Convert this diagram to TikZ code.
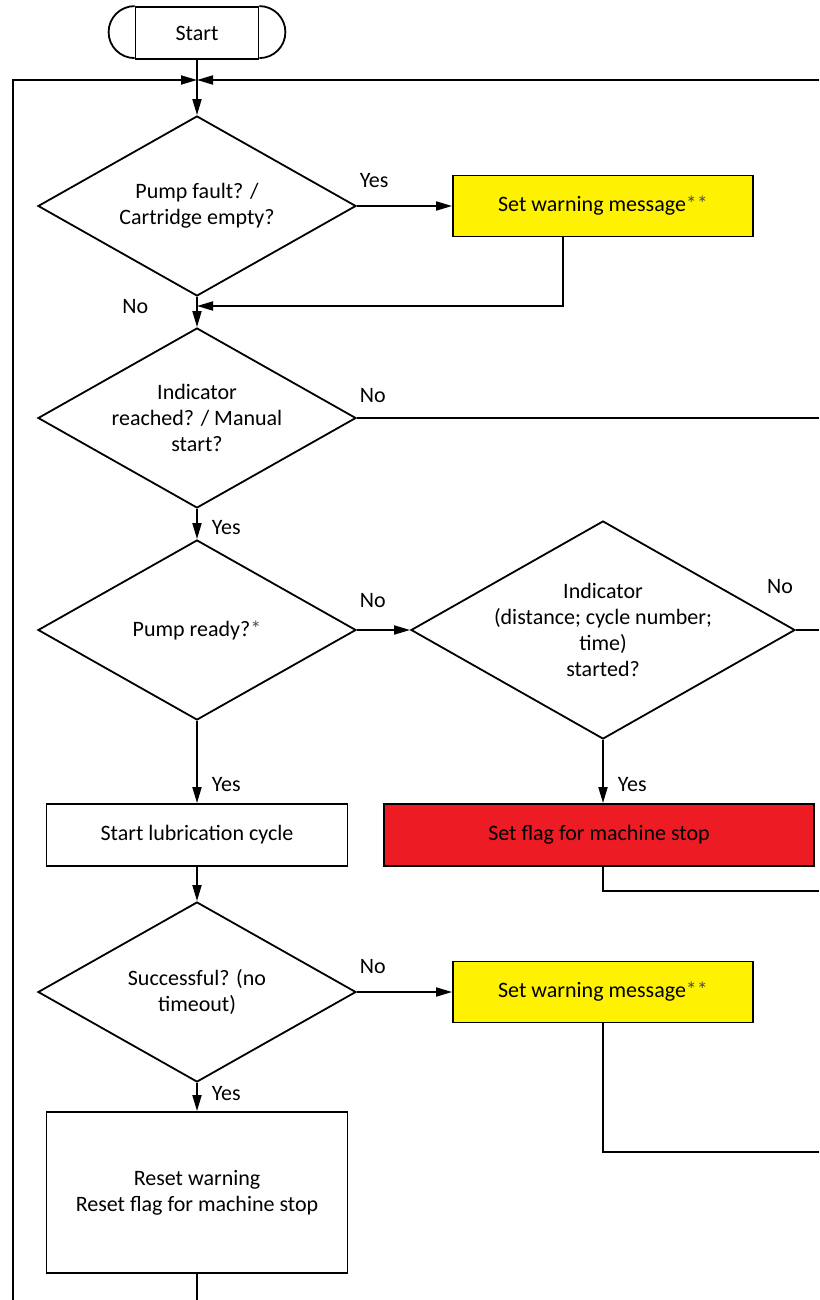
\documentclass[tikz,border=0pt]{standalone}
\usepackage{fontspec}
\setmainfont{Carlito}
\usetikzlibrary{shapes.geometric,arrows.meta}

\definecolor{warnyellow}{RGB}{255,242,0}
\definecolor{stopred}{RGB}{237,28,36}
\definecolor{stargray}{RGB}{80,80,80}
\newcommand{\stars}[1]{{\color{stargray}#1}}

\tikzstyle{term} = [rectangle, minimum width=123pt, minimum height=52pt, inner sep=0pt, draw=black]
\tikzstyle{proc} = [rectangle, minimum width=301pt, minimum height=62pt, inner sep=0pt, align=center, draw=black]
\tikzstyle{warn} = [proc, minimum width=300pt, minimum height=61pt, fill=warnyellow]
\tikzstyle{dec} = [diamond, minimum width=318pt, minimum height=180pt, shape aspect=1.77, inner sep=0pt, align=center, draw=black]
\tikzstyle{lbl} = [inner sep=2pt]
\tikzstyle{hlbl} = [lbl, pos=0, anchor=west, yshift=25pt]

\begin{document}
\begin{tikzpicture}[x=1pt,y=1pt,line width=1.8pt,node distance=212pt,
  >={Triangle[length=16pt,width=9pt]},font=\fontsize{22}{26}\selectfont]
\useasboundingbox (0,0) rectangle (819,-1300);

\node[term] (Start) at (197,-33) {Start};
\draw (Start.north west) arc (90:270:26pt);
\draw (Start.north east) arc (90:-90:26pt);

\node[dec] (Fault) [below of=Start, yshift=39pt] {Pump fault? /\\Cartridge empty?};
\node[warn] (Warn1) [node distance=406pt, right of=Fault] {Set warning message\stars{**}};

\node[dec] (Reached) [below of=Fault] {Indicator\\reached? / Manual\\start?};
\node[dec] (Ready) [below of=Reached] {Pump ready?\stars{*}};
\node[dec, minimum width=384pt, minimum height=218pt, shape aspect=1.76, inner xsep=-50pt] (Started) [node distance=406pt, right of=Ready] 
{Indicator\\(distance; cycle number;\\time)\\started?};
\node[proc, minimum width=430pt, fill=stopred] (Stop) [below of=Started, yshift=7pt, xshift=-4pt] {Set flag for machine stop};

\node[proc] (Lube) [below of=Ready, yshift=7pt] {Start lubrication cycle};
\node[dec] (Success) [below of=Lube, yshift=55pt] {Successful? (no\\timeout)};
\node[warn] (Warn2) [node distance=406pt, right of=Success] {Set warning message\stars{**}};
\node[proc, minimum height=161pt] (Reset) [below of=Success, yshift=11.5pt] {Reset warning\\Reset flag for machine stop};

% loose ends at the edges of the page
\coordinate (TopJ) at (197,-80);
\coordinate (TopR) at (819,-80);
\coordinate (BotL) at (13,-1300);
\coordinate (J1) at (197,-306);
\coordinate (StopR) at (819,-891);
\coordinate (Warn2R) at (819,-1152);

\path[draw]
  (Start) edge (TopJ)
  (TopJ) edge[->] (Fault)
  (TopR) edge[->] (TopJ)
  (Fault) edge[->] node[hlbl] (yes1) {Yes} (Warn1)
  (Fault) edge[->] node[lbl, pos=0.31, left=46pt] (no1) {No} (Reached)
  (Reached) edge node[hlbl, yshift=-3pt] (no2) {No} (Reached.east -| TopR)
  (Reached) edge[->] node[lbl, pos=0.6, right=12pt] (yes2) {Yes} (Ready)
  (Ready) edge[->] node[hlbl, yshift=4pt] (no3) {No} (Started)
  (Started) edge node[lbl, pos=0, anchor=east, yshift=43pt] (no4) {No} (Started.east -| TopR)
  (Started.south) edge[->] node[lbl, pos=0.71, right=12pt] (yes3) {Yes} (Started.south |- Stop.north)
  (Ready) edge[->] node[lbl, pos=0.77, right=12pt] (yes4) {Yes} (Lube)
  (Lube) edge[->] (Success)
  (Success) edge[->] node[hlbl] (no5) {No} (Warn2)
  (Success) edge[->] node[lbl, pos=0.37, right=12pt] (yes5) {Yes} (Reset)
  (Reset) edge (Reset.south |- BotL)
  ;

\draw[->] (BotL) |- (TopJ);
\draw[->] ([xshift=-40pt]Warn1.south) |- (J1);
\draw (Started.south |- Stop.south) |- (StopR);
\draw (Warn2.south) |- (Warn2R);

\end{tikzpicture}
\end{document}
